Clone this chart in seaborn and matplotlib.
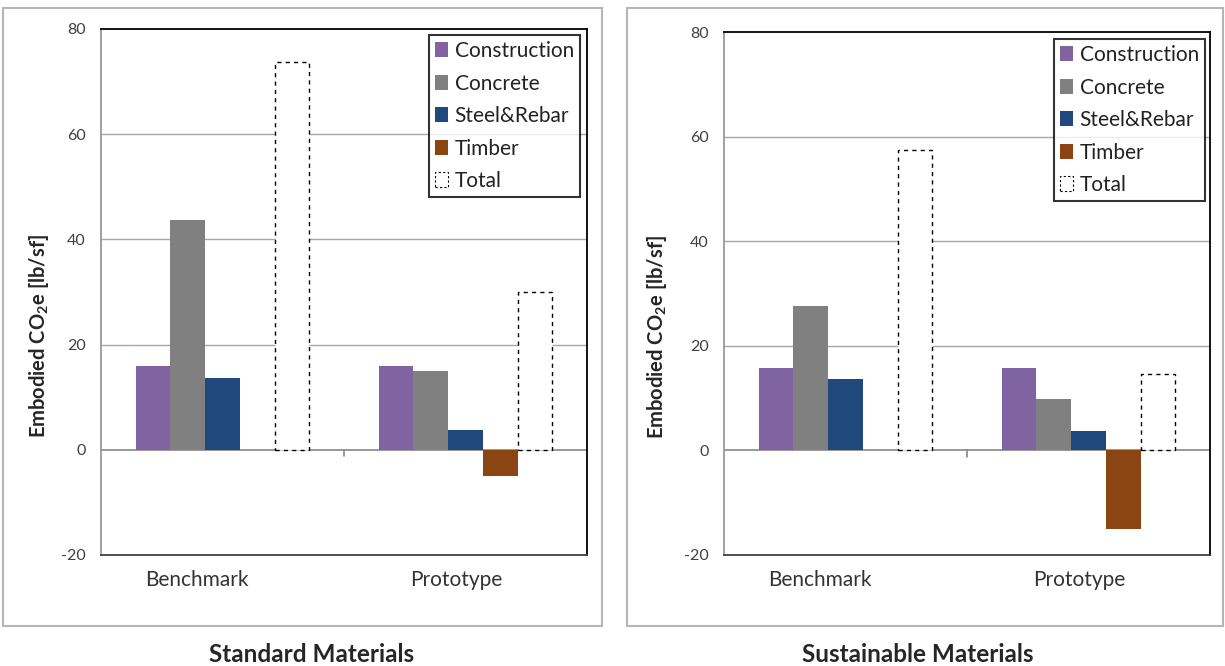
import pandas as pd
import numpy as np
import seaborn as sns
import matplotlib.pyplot as plt
import matplotlib.transforms as mtrans
from matplotlib.patches import Patch, Rectangle

categories = ['Benchmark', 'Prototype']
materials = ['Construction', 'Concrete', 'Steel&Rebar', 'Timber', 'Total']
standard_benchmark = [16.0, 43.7, 13.7, 0.0, 73.7]
standard_prototype = [16.0, 15.0, 3.8, -5.0, 30.0]
sustainable_benchmark = [15.8, 27.6, 13.6, 0.0, 57.5]
sustainable_prototype = [15.8, 9.8, 3.8, -15.1, 14.7]
panel_titles = ['Standard Materials', 'Sustainable Materials']
yticks = [-20, 0, 20, 40, 60, 80]

colors = ['#8064A2', '#808080', '#1F497D', '#8B4513', '#FFFFFF']


def make_frame(bench, proto):
    rows = []
    for m, b, p in zip(materials, bench, proto):
        rows.append({'case': categories[0], 'material': m, 'value': b})
        rows.append({'case': categories[1], 'material': m, 'value': p})
    return pd.DataFrame(rows)


def draw_panel(fig, ax, df, legend_anchor, label_x):
    sns.barplot(data=df, x='case', y='value', hue='material', order=categories,
                hue_order=materials, palette=colors, width=0.716, linewidth=0,
                saturation=1, errorbar=None, legend=False, ax=ax, zorder=3)
    # total bars: white with dashed outline
    for bar in ax.containers[-1]:
        bar.set_facecolor('white')
        bar.set_edgecolor('black')
        bar.set_linestyle((0, (3, 3)))
        bar.set_linewidth(1.0)

    ax.set_ylim(-20, 80)
    ax.set_xlim(-0.5, 1.5)
    ax.set_yticks(yticks)
    ax.set_yticklabels([str(t) for t in yticks], fontsize=11.5, color='#404040')
    ax.tick_params(axis='y', length=5, color='#999999', pad=6)
    ax.tick_params(axis='x', length=0, pad=11, labelsize=15, labelcolor='#333333')
    # excel places the category labels a bit left of the group centre
    for lab, dx in zip(ax.get_xticklabels(), [-26, -9]):
        lab.set_transform(lab.get_transform() + mtrans.ScaledTranslation(dx / 100, 0, fig.dpi_scale_trans))
    for t in [20, 40, 60]:
        ax.axhline(t, color='#A6A6A6', lw=1, zorder=1)
    ax.axhline(0, color='#888888', lw=1.2, zorder=2)
    ax.axvline(0.5, ymin=0.188, ymax=0.2, color='#888888', lw=1.2)
    ax.set_xlabel('')
    ax.set_ylabel('Embodied CO$_2$e [lb/sf]', fontsize=14.5, fontweight='bold')
    ax.yaxis.set_label_coords(label_x, 0.416)
    ax.spines['top'].set_color('black')
    ax.spines['right'].set_color('black')
    ax.spines['left'].set_color('#999999')
    ax.spines['bottom'].set_color('#404040')
    for s in ax.spines.values():
        s.set_linewidth(1.3)
        s.set_visible(True)

    handles = [Patch(facecolor=c, edgecolor='none', label=m) for c, m in zip(colors[:4], materials[:4])]
    handles.append(Patch(facecolor='white', edgecolor='black', linestyle=(0, (2, 2)), linewidth=0.8, label='Total'))
    leg = ax.legend(handles=handles, loc='upper right', bbox_to_anchor=legend_anchor,
                    fontsize=15, handlelength=0.65, handleheight=0.75, handletextpad=0.3,
                    labelspacing=0.6, borderpad=0.3, borderaxespad=0, frameon=True,
                    fancybox=False)
    leg.get_frame().set_edgecolor('black')
    leg.get_frame().set_linewidth(1.5)
    for txt in leg.get_texts():
        txt.set_color('#222222')


sns.set_style('white')
plt.rcParams['font.family'] = ['Lato', 'DejaVu Sans']
plt.rcParams['mathtext.default'] = 'regular'

fig = plt.figure(figsize=(12.25, 6.66), dpi=100)
ax1 = fig.add_axes([101 / 1225, 1 - 555 / 666, 486 / 1225, 526 / 666])
ax2 = fig.add_axes([724 / 1225, 1 - 555 / 666, 486 / 1225, 523 / 666])

draw_panel(fig, ax1, make_frame(standard_benchmark, standard_prototype), (0.986, 0.989), -0.103)
draw_panel(fig, ax2, make_frame(sustainable_benchmark, sustainable_prototype), (0.99, 0.987), -0.113)

# outer chart-area frames
fig.patches.append(Rectangle((3 / 1225, 1 - 626 / 666), 599 / 1225, 618 / 666,
                             transform=fig.transFigure, fill=False, edgecolor='#B5B5B5', lw=1.5))
fig.patches.append(Rectangle((627 / 1225, 1 - 626 / 666), 596 / 1225, 618 / 666,
                             transform=fig.transFigure, fill=False, edgecolor='#B5B5B5', lw=1.5))

fig.text(312 / 1225, 1 - 655 / 666, panel_titles[0], ha='center', va='center',
         fontsize=17.5, fontweight='bold')
fig.text(918 / 1225, 1 - 655 / 666, panel_titles[1], ha='center', va='center',
         fontsize=17.5, fontweight='bold')

fig.savefig('out.png', dpi=100)
